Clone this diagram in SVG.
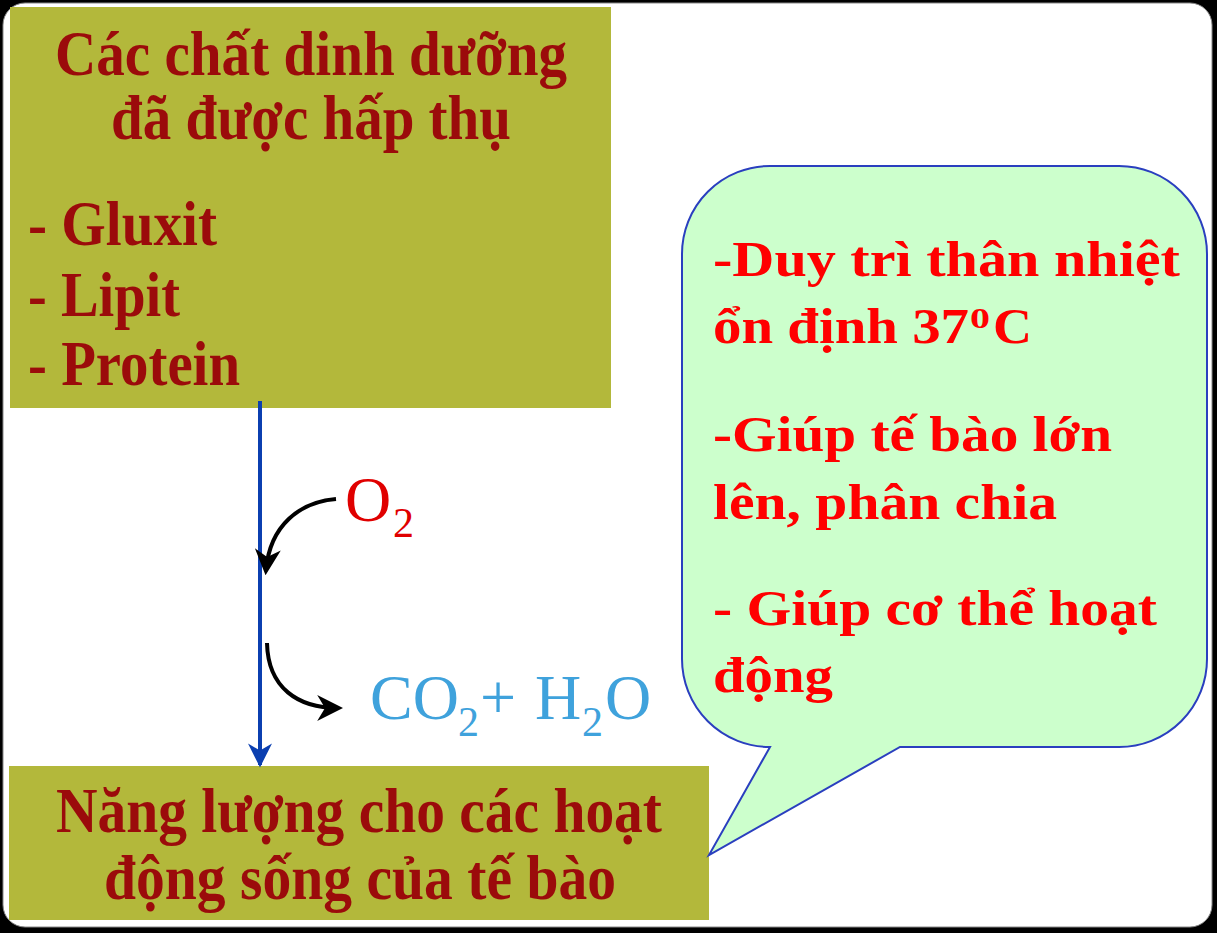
<svg xmlns="http://www.w3.org/2000/svg" width="1217" height="933" viewBox="0 0 1217 933">
<style>
.box{fill:#B3B83B}
.dk{font-family:"Liberation Serif","Times New Roman",serif;font-weight:bold;font-size:64px;fill:#9B0B0B}
.rd{font-family:"Liberation Serif","Times New Roman",serif;font-weight:bold;font-size:51px;fill:#FF0000}
.sup{font-size:30px}
.chem{font-family:"Liberation Serif","Times New Roman",serif;font-size:64px}
.sub{font-size:42px}
.o2{fill:#E00000}
.co2{fill:#3FA2DC}
.curve{fill:none;stroke:#000;stroke-width:4}
</style>
<defs>
<marker id="ahBlack" viewBox="0 0 10 10" refX="8" refY="5" markerWidth="6.5" markerHeight="6.5" orient="auto">
<path d="M0,0 L10,5 L0,10 L3,5 Z" fill="#000"/>
</marker>
<marker id="ahBlue" viewBox="0 0 10 10" refX="9" refY="5" markerWidth="7.5" markerHeight="6" orient="auto">
<path d="M0,0 L10,5 L0,10 L3,5 Z" fill="#0B3FB0"/>
</marker>
</defs>
<rect x="0" y="0" width="1217" height="933" fill="#000"/>
<rect x="3" y="3" width="1209" height="924" rx="22" fill="#FFFFFF" stroke="#888" stroke-width="1"/>

<g id="node-nutrients">
<rect class="box" x="10" y="7" width="601" height="401"/>
<text class="dk" x="55" y="75" textLength="512" lengthAdjust="spacingAndGlyphs">Các chất dinh dưỡng</text>
<text class="dk" x="111" y="139" textLength="400" lengthAdjust="spacingAndGlyphs">đã được hấp thụ</text>
<text class="dk" x="28" y="245" textLength="189" lengthAdjust="spacingAndGlyphs">- Gluxit</text>
<text class="dk" x="28" y="316" textLength="152" lengthAdjust="spacingAndGlyphs">- Lipit</text>
<text class="dk" x="28" y="385" textLength="212" lengthAdjust="spacingAndGlyphs">- Protein</text>
</g>

<g id="node-energy">
<rect class="box" x="9" y="766" width="700" height="154"/>
<text class="dk" x="56" y="832" textLength="606" lengthAdjust="spacingAndGlyphs">Năng lượng cho các hoạt</text>
<text class="dk" x="104" y="899" textLength="512" lengthAdjust="spacingAndGlyphs">động sống của tế bào</text>
</g>

<g id="node-callout">
<path d="M770,747 L709,855 L900,747 L1119,747 A88,88 0 0 0 1207,659 L1207,254 A88,88 0 0 0 1119,166 L770,166 A88,88 0 0 0 682,254 L682,659 A88,88 0 0 0 770,747 Z" fill="#CCFFCC" stroke="#2A3FBF" stroke-width="2"/>
<text class="rd" x="713" y="276" textLength="467" lengthAdjust="spacingAndGlyphs">-Duy trì thân nhiệt</text>
<text class="rd" x="713" y="343" textLength="256" lengthAdjust="spacingAndGlyphs">ổn định 37</text>
<text class="rd sup" x="970" y="328" textLength="20" lengthAdjust="spacingAndGlyphs">0</text>
<text class="rd" x="993" y="343" textLength="39" lengthAdjust="spacingAndGlyphs">C</text>
<text class="rd" x="713" y="451" textLength="399" lengthAdjust="spacingAndGlyphs">-Giúp tế bào lớn</text>
<text class="rd" x="713" y="519" textLength="344" lengthAdjust="spacingAndGlyphs">lên, phân chia</text>
<text class="rd" x="713" y="625" textLength="444" lengthAdjust="spacingAndGlyphs">- Giúp cơ thể hoạt</text>
<text class="rd" x="713" y="692" textLength="120" lengthAdjust="spacingAndGlyphs">động</text>
</g>

<g id="node-o2">
<text class="chem o2" x="345" y="521">O</text>
<text class="chem sub o2" x="393" y="537">2</text>
</g>

<g id="node-products">
<text class="chem co2" x="370" y="719">CO</text>
<text class="chem sub co2" x="458" y="736">2</text>
<text class="chem co2" x="480" y="719">+</text>
<text class="chem co2" x="535" y="719">H</text>
<text class="chem sub co2" x="582" y="736">2</text>
<text class="chem co2" x="605" y="719">O</text>
</g>

<g id="connectors">
<line x1="260" y1="401" x2="260" y2="765" stroke="#0B3FB0" stroke-width="4" marker-end="url(#ahBlue)"/>
<path class="curve" d="M336,499 C300,502 270,525 266,570" marker-end="url(#ahBlack)"/>
<path class="curve" d="M267,643 C268,688 298,708 338,708" marker-end="url(#ahBlack)"/>
</g>
</svg>
